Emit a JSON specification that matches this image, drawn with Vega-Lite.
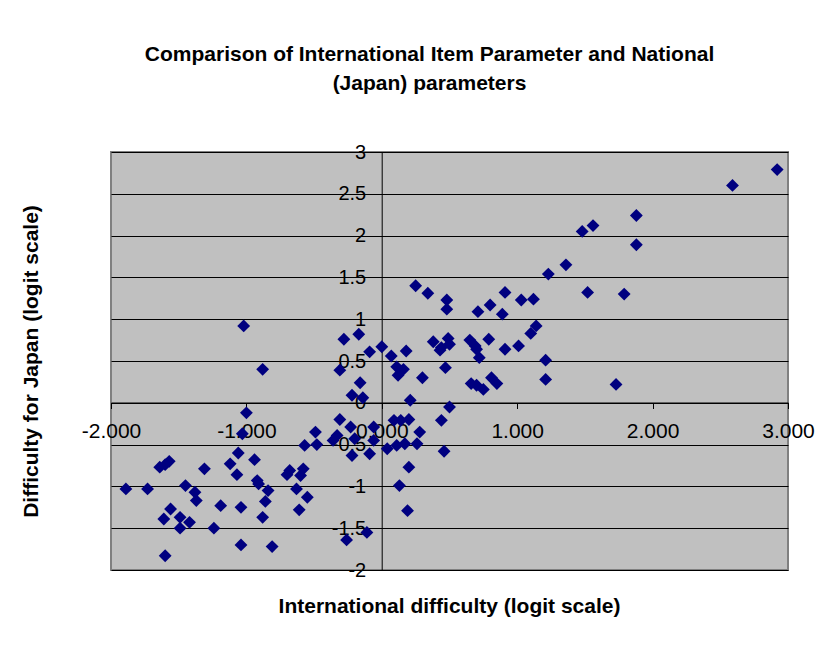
{
  "$schema": "https://vega.github.io/schema/vega-lite/v6.json",
  "width": 677,
  "height": 418,
  "autosize": {"type": "none"},
  "padding": {"left": 111, "top": 152, "right": 52, "bottom": 81},
  "background": "white",
  "title": {
    "text": ["Comparison of International Item Parameter and National", "(Japan) parameters"],
    "font": "Liberation Sans",
    "fontSize": 21,
    "fontWeight": "bold",
    "color": "black",
    "anchor": "middle",
    "dx": -20,
    "offset": 48,
    "lineHeight": 29
  },
  "config": {
    "view": {"fill": "#C0C0C0", "stroke": "#808080", "strokeWidth": 2},
    "axis": {"labelFont": "Liberation Sans", "titleFont": "Liberation Sans"}
  },
  "data": {
    "values": [
      {"intl": 2.92, "japan": 2.79}, {"intl": 2.59, "japan": 2.60}, {"intl": 1.88, "japan": 2.24},
      {"intl": 1.88, "japan": 1.89}, {"intl": 1.48, "japan": 2.05}, {"intl": 1.56, "japan": 2.12},
      {"intl": 1.36, "japan": 1.65}, {"intl": 1.23, "japan": 1.54}, {"intl": 1.52, "japan": 1.32},
      {"intl": 1.79, "japan": 1.30}, {"intl": 0.91, "japan": 1.32}, {"intl": 1.03, "japan": 1.23},
      {"intl": 1.12, "japan": 1.24}, {"intl": 0.80, "japan": 1.17}, {"intl": 0.71, "japan": 1.09},
      {"intl": 0.89, "japan": 1.06}, {"intl": 0.48, "japan": 1.23}, {"intl": 0.48, "japan": 1.12},
      {"intl": 1.14, "japan": 0.92}, {"intl": 1.10, "japan": 0.83}, {"intl": 0.49, "japan": 0.77},
      {"intl": 0.50, "japan": 0.70}, {"intl": 0.44, "japan": 0.66}, {"intl": 0.65, "japan": 0.75},
      {"intl": 0.69, "japan": 0.68}, {"intl": 0.70, "japan": 0.64}, {"intl": 0.79, "japan": 0.76},
      {"intl": 0.91, "japan": 0.64}, {"intl": 1.01, "japan": 0.68}, {"intl": 1.21, "japan": 0.51},
      {"intl": 0.72, "japan": 0.54}, {"intl": 0.47, "japan": 0.42}, {"intl": 1.21, "japan": 0.28},
      {"intl": 1.73, "japan": 0.22}, {"intl": 0.66, "japan": 0.23}, {"intl": 0.70, "japan": 0.21},
      {"intl": 0.75, "japan": 0.16}, {"intl": 0.81, "japan": 0.30}, {"intl": 0.85, "japan": 0.23},
      {"intl": 0.50, "japan": -0.05}, {"intl": 0.44, "japan": -0.21}, {"intl": 0.46, "japan": -0.58},
      {"intl": 0.25, "japan": 1.40}, {"intl": 0.34, "japan": 1.31}, {"intl": -0.28, "japan": 0.76},
      {"intl": -0.17, "japan": 0.82}, {"intl": -0.09, "japan": 0.61}, {"intl": 0.00, "japan": 0.67},
      {"intl": 0.07, "japan": 0.56}, {"intl": 0.18, "japan": 0.62}, {"intl": 0.11, "japan": 0.43},
      {"intl": 0.16, "japan": 0.40}, {"intl": 0.12, "japan": 0.33}, {"intl": 0.30, "japan": 0.30},
      {"intl": -0.31, "japan": 0.39}, {"intl": -0.16, "japan": 0.24}, {"intl": -0.22, "japan": 0.09},
      {"intl": -0.14, "japan": 0.06}, {"intl": 0.21, "japan": 0.03}, {"intl": 0.38, "japan": 0.73},
      {"intl": 0.43, "japan": 0.63}, {"intl": -0.88, "japan": 0.40}, {"intl": -1.02, "japan": 0.92},
      {"intl": -1.00, "japan": -0.12}, {"intl": -1.89, "japan": -1.03}, {"intl": -1.73, "japan": -1.03},
      {"intl": -1.64, "japan": -0.77}, {"intl": -1.57, "japan": -0.70}, {"intl": -1.60, "japan": -0.74},
      {"intl": -1.45, "japan": -0.99}, {"intl": -1.38, "japan": -1.07}, {"intl": -1.37, "japan": -1.17},
      {"intl": -1.31, "japan": -0.79}, {"intl": -1.56, "japan": -1.27}, {"intl": -1.61, "japan": -1.39},
      {"intl": -1.49, "japan": -1.37}, {"intl": -1.42, "japan": -1.43}, {"intl": -1.49, "japan": -1.50},
      {"intl": -1.60, "japan": -1.83}, {"intl": -1.24, "japan": -1.50}, {"intl": -1.19, "japan": -1.23},
      {"intl": -1.03, "japan": -0.37}, {"intl": -1.06, "japan": -0.60}, {"intl": -1.12, "japan": -0.73},
      {"intl": -1.07, "japan": -0.86}, {"intl": -0.94, "japan": -0.68}, {"intl": -0.92, "japan": -0.93},
      {"intl": -0.91, "japan": -0.97}, {"intl": -0.84, "japan": -1.05}, {"intl": -0.86, "japan": -1.18},
      {"intl": -0.88, "japan": -1.37}, {"intl": -1.04, "japan": -1.25}, {"intl": -1.04, "japan": -1.70},
      {"intl": -0.81, "japan": -1.72}, {"intl": -0.57, "japan": -0.51}, {"intl": -0.49, "japan": -0.35},
      {"intl": -0.48, "japan": -0.50}, {"intl": -0.68, "japan": -0.81}, {"intl": -0.70, "japan": -0.86},
      {"intl": -0.58, "japan": -0.79}, {"intl": -0.60, "japan": -0.87}, {"intl": -0.63, "japan": -1.03},
      {"intl": -0.55, "japan": -1.13}, {"intl": -0.61, "japan": -1.28}, {"intl": -0.31, "japan": -0.20},
      {"intl": -0.23, "japan": -0.29}, {"intl": -0.33, "japan": -0.39}, {"intl": -0.36, "japan": -0.45},
      {"intl": -0.22, "japan": -0.63}, {"intl": -0.06, "japan": -0.29}, {"intl": -0.06, "japan": -0.45},
      {"intl": -0.09, "japan": -0.61}, {"intl": -0.11, "japan": -1.55}, {"intl": -0.26, "japan": -1.64},
      {"intl": 0.04, "japan": -0.55}, {"intl": 0.11, "japan": -0.51}, {"intl": 0.14, "japan": -0.21},
      {"intl": 0.20, "japan": -0.20}, {"intl": 0.17, "japan": -0.49}, {"intl": 0.26, "japan": -0.49},
      {"intl": 0.28, "japan": -0.35}, {"intl": 0.20, "japan": -0.77}, {"intl": 0.13, "japan": -0.99},
      {"intl": 0.19, "japan": -1.29}, {"intl": 0.09, "japan": -0.21}, {"intl": -0.20, "japan": -0.43}
    ]
  },
  "mark": {"type": "point", "shape": "diamond", "filled": true, "size": 165, "color": "#000080", "opacity": 1},
  "encoding": {
    "x": {
      "field": "intl",
      "type": "quantitative",
      "scale": {"domain": [-2, 3], "nice": false, "zero": false},
      "axis": {
        "title": "International difficulty (logit scale)",
        "titleFontSize": 21,
        "titleFontWeight": "bold",
        "titleColor": "black",
        "titleX": 338,
        "titleY": 204,
        "titleBaseline": "middle",
        "titleAlign": "center",
        "values": [-2, -1, 0, 1, 2, 3],
        "labelExpr": "replace(format(datum.value, '.3f'), '\u2212', '-')",
        "labelFontSize": 21,
        "labelColor": "black",
        "labelPadding": 12,
        "labelFlush": false,
        "labelOverlap": false,
        "offset": -167.5,
        "domainColor": "black",
        "tickColor": "black",
        "tickSize": 6,
        "grid": false
      }
    },
    "y": {
      "field": "japan",
      "type": "quantitative",
      "scale": {"domain": [-2, 3], "nice": false, "zero": false},
      "axis": {
        "title": "Difficulty for Japan (logit scale)",
        "titleFontSize": 21,
        "titleFontWeight": "bold",
        "titleColor": "black",
        "titleX": -350,
        "titleY": 209,
        "titleAngle": -90,
        "titleBaseline": "middle",
        "titleAlign": "center",
        "values": [-2, -1.5, -1, -0.5, 0, 0.5, 1, 1.5, 2, 2.5, 3],
        "labelExpr": "replace(format(datum.value, '~g'), '\u2212', '-')",
        "labelFontSize": 20,
        "labelColor": "black",
        "labelPadding": 10,
        "labelFlush": false,
        "labelOverlap": false,
        "offset": -270.7,
        "domainColor": "black",
        "tickColor": "black",
        "tickSize": 6,
        "grid": true,
        "gridColor": "black",
        "gridWidth": 1
      }
    }
  }
}
